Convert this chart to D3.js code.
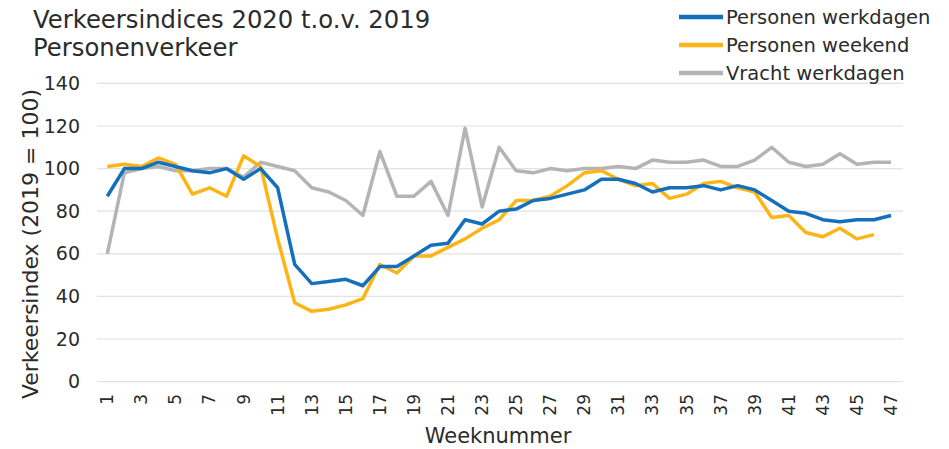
<!DOCTYPE html>
<html lang="en">
<head>
<meta charset="UTF-8">
<title>Verkeersindices 2020</title>
<script src="https://d3js.org/d3.v7.min.js"></script>
<style>
    body { margin: 0; background: #fff; font-family: 'DejaVu Sans', Verdana, sans-serif; }
    svg text { fill: #2b2b2b; }
</style>
</head>
<body>
<div id="chart"></div>
<script>
    // week numbers and the three series (index 2019 = 100)
    const weeks = d3.range(1, 48);
    const personenWerkdagen = [87, 100, 100, 103, 101, 99, 98, 100, 95, 100, 91, 55, 46, 47, 48, 45, 54, 54, 59, 64, 65, 76, 74, 80, 81, 85, 86, 88, 90, 95, 95, 93, 89, 91, 91, 92, 90, 92, 90, 85, 80, 79, 76, 75, 76, 76, 78];
    const personenWeekend = [101, 102, 101, 105, 102, 88, 91, 87, 106, 101, 67, 37, 33, 34, 36, 39, 55, 51, 59, 59, 63, 67, 72, 76, 85, 85, 87, 92, 98, 99, 95, 92, 93, 86, 88, 93, 94, 91, 89, 77, 78, 70, 68, 72, 67, 69, null];
    const vrachtWerkdagen = [60, 98, 100, 101, 99, 99, 100, 100, 96, 103, 101, 99, 91, 89, 85, 78, 108, 87, 87, 94, 78, 119, 82, 110, 99, 98, 100, 99, 100, 100, 101, 100, 104, 103, 103, 104, 101, 101, 104, 110, 103, 101, 102, 107, 102, 103, 103];
    const yTicks = [0, 20, 40, 60, 80, 100, 120, 140];

    const seriesNames = ["Personen werkdagen", "Personen weekend", "Vracht werkdagen"];
    const seriesColors = ["#1470bd", "#fdb515", "#b4b4b4"];
    const seriesValues = [personenWerkdagen, personenWeekend, vrachtWerkdagen];

    const width = 949, height = 449;
    const svg = d3.select("#chart").append("svg")
        .attr("width", width).attr("height", height);

    const x = d3.scalePoint().domain(weeks).range([107.3, 891]);
    const y = d3.scaleLinear().domain([0, 140]).range([381.6, 83.4]);

    // gridlines
    svg.append("g").selectAll("line")
        .data(yTicks)
        .join("line")
        .attr("x1", 97).attr("x2", 903)
        .attr("y1", d => y(d)).attr("y2", d => y(d))
        .attr("stroke", "#e2e2e2").attr("stroke-width", 1.2);

    // y axis labels
    svg.append("g").selectAll("text")
        .data(yTicks)
        .join("text")
        .attr("x", 80).attr("y", d => y(d))
        .attr("dy", "0.35em")
        .attr("text-anchor", "end")
        .style("font-size", "19px")
        .text(d => d);

    // x tick labels (odd weeks), rotated
    svg.append("g").selectAll("text")
        .data(weeks.filter(w => w % 2 === 1))
        .join("text")
        .attr("transform", d => `translate(${x(d)},394) rotate(-90)`)
        .attr("text-anchor", "end")
        .attr("dy", "0.35em")
        .style("font-size", "17px")
        .text(d => d);

    // lines
    const line = d3.line()
        .defined(d => d.v != null)
        .x(d => x(d.w))
        .y(d => y(d.v));

    [2, 1, 0].forEach(i => {
        svg.append("path")
            .datum(weeks.map((w, j) => ({ w: w, v: seriesValues[i][j] })))
            .attr("d", line)
            .attr("fill", "none")
            .attr("stroke", seriesColors[i])
            .attr("stroke-width", 3.5)
            .attr("stroke-linejoin", "round");
    });

    // titles
    svg.append("text").attr("x", 33).attr("y", 28)
        .style("font-size", "24.3px").text("Verkeersindices 2020 t.o.v. 2019");
    svg.append("text").attr("x", 33).attr("y", 56)
        .style("font-size", "24.3px").text("Personenverkeer");

    svg.append("text")
        .attr("transform", "translate(38,244) rotate(-90)")
        .attr("text-anchor", "middle")
        .style("font-size", "22px")
        .text("Verkeersindex (2019 = 100)");

    svg.append("text")
        .attr("x", 498).attr("y", 443)
        .attr("text-anchor", "middle")
        .style("font-size", "21px")
        .text("Weeknummer");

    // legend
    const legend = svg.append("g").selectAll("g")
        .data(seriesNames)
        .join("g")
        .attr("transform", (d, i) => `translate(679,${17 + i * 28})`);
    legend.append("line")
        .attr("x1", 0).attr("x2", 44)
        .attr("stroke", (d, i) => seriesColors[i])
        .attr("stroke-width", 4.5);
    legend.append("text")
        .attr("x", 47).attr("dy", "0.35em")
        .style("font-size", "19.5px")
        .text(d => d);
</script>
</body>
</html>
